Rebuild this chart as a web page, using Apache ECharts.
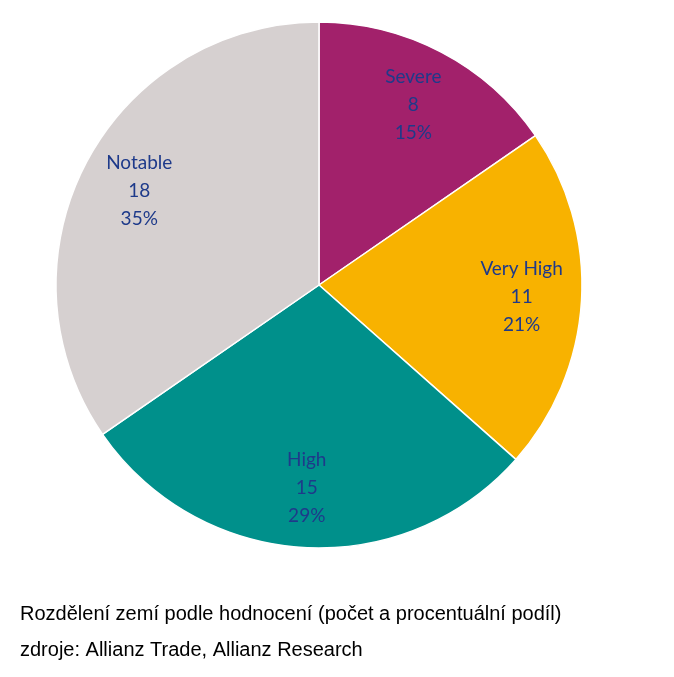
<!DOCTYPE html>
<html>
<head>
<meta charset="utf-8">
<script src="https://cdn.jsdelivr.net/npm/echarts@6/dist/echarts.min.js"></script>
<style>html,body{margin:0;padding:0;background:#fff}#chart{width:674px;height:677px}</style>
</head>
<body>
<div id="chart"></div>
<script>
var categories = ['Severe', 'Very High', 'High', 'Notable'];
var counts = [8, 11, 15, 18];
var percents = ['15%', '21%', '29%', '35%'];
var colors = ['#A2216B', '#F8B200', '#00908B', '#D6D0D0'];

var pieData = categories.map(function (c, i) {
    return { name: c, value: counts[i], itemStyle: { color: colors[i] } };
});
var labelData = categories.map(function (c, i) {
    return { name: c, value: counts[i], pct: percents[i] };
});

var myChart = echarts.init(document.getElementById('chart'));
var option = {
    animation: false,
    series: [
        {
            type: 'pie',
            center: [319, 285],
            radius: [0, 263],
            startAngle: 90,
            clockwise: true,
            label: { show: false },
            labelLine: { show: false },
            itemStyle: { borderColor: '#fff', borderWidth: 1.5 },
            emphasis: { disabled: true },
            data: pieData
        },
        {
            type: 'pie',
            center: [319, 285],
            radius: [137, 263],
            startAngle: 90,
            clockwise: true,
            silent: true,
            itemStyle: { color: 'transparent' },
            label: {
                show: true,
                position: 'inside',
                color: '#1E3A8A',
                fontFamily: 'Lato',
                fontSize: 19,
                lineHeight: 28,
                formatter: function (p) {
                    return p.name + '\n' + p.value + '\n' + percents[p.dataIndex];
                }
            },
            labelLine: { show: false },
            data: labelData
        }
    ],
    graphic: [
        { type: 'text', left: 20, top: 604, style: { text: 'Rozdělení zemí podle hodnocení (počet a procentuální podíl)', fontFamily: 'Liberation Sans', fontSize: 20, fill: '#000' } },
        { type: 'text', left: 20, top: 640, style: { text: 'zdroje: Allianz Trade, Allianz Research', fontFamily: 'Liberation Sans', fontSize: 20, fill: '#000' } }
    ]
};
myChart.setOption(option);
</script>
</body>
</html>
